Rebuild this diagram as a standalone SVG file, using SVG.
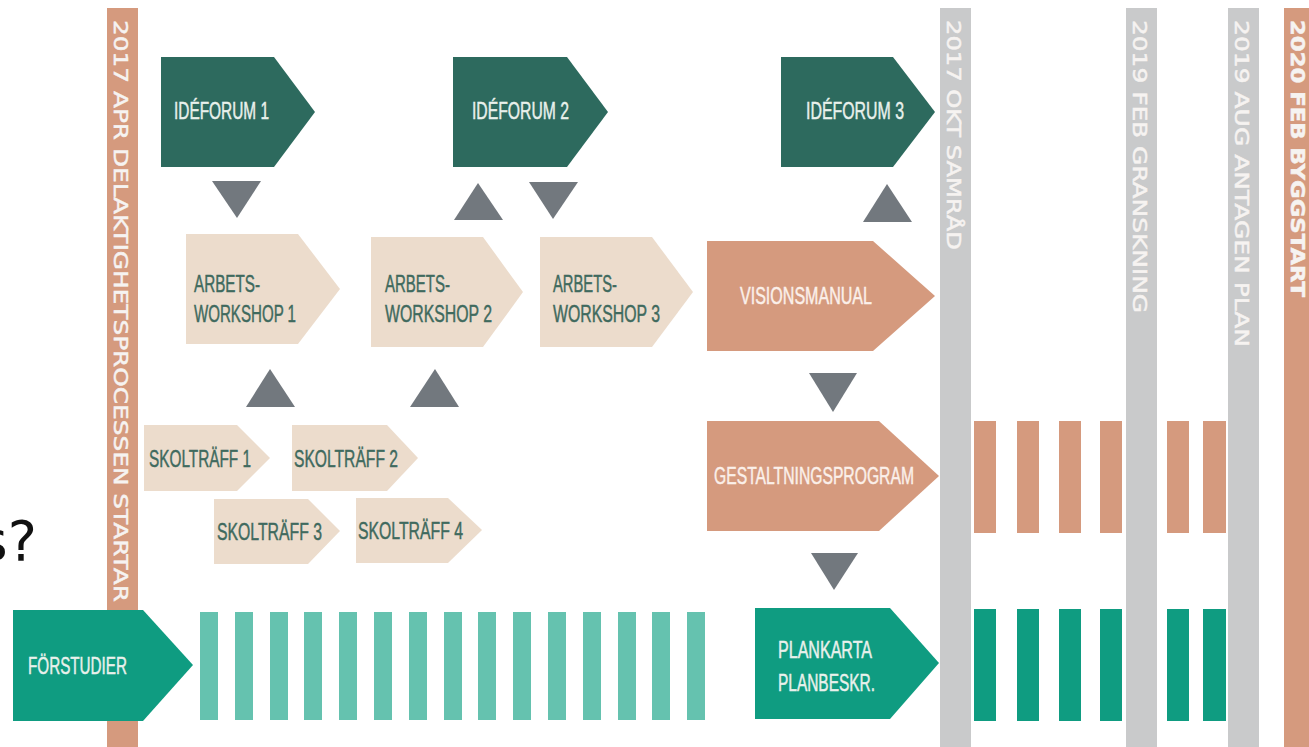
<svg xmlns="http://www.w3.org/2000/svg" width="1309" height="747" viewBox="0 0 1309 747">
<style>
.lbl{font-family:"Liberation Sans",Arial,sans-serif;font-size:23px;stroke-width:0.45px}
.vt{font-family:"DejaVu Sans","Liberation Sans",sans-serif;font-size:20px;fill:#f6f3f1;stroke:#f6f3f1;stroke-width:0.5px}
.dg{fill:#2d6a5e}
.tan{fill:#ecdccc}
.sal{fill:#d59a7e}
.teal{fill:#0f9c81}
.lteal{fill:#65c2af}
.gbar{fill:#c9cacb}
.tri{fill:#72787e}
.tl{fill:#e9f1ec;stroke:#e9f1ec}
.td{fill:#3f6a5e;stroke:#3f6a5e}
.ts{fill:#fbf0ea;stroke:#fbf0ea}
</style>
<rect width="1309" height="747" fill="#ffffff"/>
<text x="-21" y="560" font-family="DejaVu Sans, sans-serif" font-size="55" fill="#111111">s?</text>

<g id="bar-2017-apr">
<rect x="107" y="8" width="31" height="739" class="sal"/>
<text class="vt" transform="translate(114,20) rotate(90)" textLength="582" lengthAdjust="spacingAndGlyphs">2017 APR DELAKTIGHETSPROCESSEN STARTAR</text>
</g>
<g id="bar-2017-okt">
<rect x="940" y="8" width="31" height="739" class="gbar"/>
<text class="vt" transform="translate(947,20) rotate(90)" textLength="230" lengthAdjust="spacingAndGlyphs">2017 OKT SAMRÅD</text>
</g>
<g id="bar-2019-feb">
<rect x="1126" y="8" width="31" height="739" class="gbar"/>
<text class="vt" transform="translate(1133,20) rotate(90)" textLength="293" lengthAdjust="spacingAndGlyphs">2019 FEB GRANSKNING</text>
</g>
<g id="bar-2019-aug">
<rect x="1228" y="8" width="31" height="739" class="gbar"/>
<text class="vt" transform="translate(1235,20) rotate(90)" textLength="327" lengthAdjust="spacingAndGlyphs">2019 AUG ANTAGEN PLAN</text>
</g>
<g id="bar-2020-feb">
<rect x="1284" y="8" width="30" height="739" class="sal"/>
<text class="vt" font-weight="bold" transform="translate(1291,20) rotate(90)" textLength="277" lengthAdjust="spacingAndGlyphs">2020 FEB BYGGSTART</text>
</g>

<g id="ideforum-1">
<polygon points="161,57 274,57 315,112 274,167 161,167" class="dg"/>
<text x="174" y="119" class="lbl tl" textLength="95" lengthAdjust="spacingAndGlyphs">IDÉFORUM 1</text>
</g>
<g id="ideforum-2">
<polygon points="453,57 567,57 608,112 567,167 453,167" class="dg"/>
<text x="472" y="119" class="lbl tl" textLength="97" lengthAdjust="spacingAndGlyphs">IDÉFORUM 2</text>
</g>
<g id="ideforum-3">
<polygon points="781,57 893,57 935,112 893,167 781,167" class="dg"/>
<text x="806" y="119" class="lbl tl" textLength="98" lengthAdjust="spacingAndGlyphs">IDÉFORUM 3</text>
</g>

<g id="workshop-1">
<polygon points="186,234 298,234 340,289 298,344 186,344" class="tan"/>
<text x="194" y="292" class="lbl td" font-size="26" textLength="66" lengthAdjust="spacingAndGlyphs">ARBETS-</text>
<text x="194" y="322" class="lbl td" font-size="26" textLength="102" lengthAdjust="spacingAndGlyphs">WORKSHOP 1</text>
</g>
<g id="workshop-2">
<polygon points="371,237 483,237 523,292 483,347 371,347" class="tan"/>
<text x="385" y="292" class="lbl td" font-size="26" textLength="65" lengthAdjust="spacingAndGlyphs">ARBETS-</text>
<text x="385" y="322" class="lbl td" font-size="26" textLength="107" lengthAdjust="spacingAndGlyphs">WORKSHOP 2</text>
</g>
<g id="workshop-3">
<polygon points="540,237 652,237 693,292 652,347 540,347" class="tan"/>
<text x="553" y="292" class="lbl td" font-size="26" textLength="64" lengthAdjust="spacingAndGlyphs">ARBETS-</text>
<text x="553" y="322" class="lbl td" font-size="26" textLength="107" lengthAdjust="spacingAndGlyphs">WORKSHOP 3</text>
</g>
<g id="visionsmanual">
<polygon points="707,241 873,241 935,296 873,351 707,351" class="sal"/>
<text x="740" y="304" class="lbl ts" textLength="132" lengthAdjust="spacingAndGlyphs">VISIONSMANUAL</text>
</g>

<g id="skoltraff-1">
<polygon points="144,425 237,425 270,458 237,491 144,491" class="tan"/>
<text x="149" y="467" class="lbl td" textLength="102" lengthAdjust="spacingAndGlyphs">SKOLTRÄFF 1</text>
</g>
<g id="skoltraff-2">
<polygon points="292,425 387,425 418,458 387,491 292,491" class="tan"/>
<text x="294" y="467" class="lbl td" textLength="104" lengthAdjust="spacingAndGlyphs">SKOLTRÄFF 2</text>
</g>
<g id="skoltraff-3">
<polygon points="214,499 308,499 340,531 308,564 214,564" class="tan"/>
<text x="217" y="540" class="lbl td" textLength="105" lengthAdjust="spacingAndGlyphs">SKOLTRÄFF 3</text>
</g>
<g id="skoltraff-4">
<polygon points="356,498 448,498 482,530 448,563 356,563" class="tan"/>
<text x="358" y="539" class="lbl td" textLength="105" lengthAdjust="spacingAndGlyphs">SKOLTRÄFF 4</text>
</g>

<g id="gestaltningsprogram">
<polygon points="707,421 879,421 939,476 879,531 707,531" class="sal"/>
<text x="714" y="484" class="lbl ts" font-size="24" textLength="200" lengthAdjust="spacingAndGlyphs">GESTALTNINGSPROGRAM</text>
</g>
<g id="gestaltning-stripes">
<rect x="974" y="421" width="22" height="112" class="sal"/>
<rect x="1017" y="421" width="22" height="112" class="sal"/>
<rect x="1059" y="421" width="22" height="112" class="sal"/>
<rect x="1100" y="421" width="22" height="112" class="sal"/>
<rect x="1167" y="421" width="22" height="112" class="sal"/>
<rect x="1203" y="421" width="23" height="112" class="sal"/>
</g>

<g id="forstudier">
<polygon points="13,610 143,610 193,665 143,721 13,721" class="teal"/>
<text x="28" y="674" class="lbl tl" textLength="99" lengthAdjust="spacingAndGlyphs">FÖRSTUDIER</text>
</g>
<g id="forstudier-stripes">
<rect x="200" y="612" width="18" height="108" class="lteal"/>
<rect x="235" y="612" width="18" height="108" class="lteal"/>
<rect x="270" y="612" width="18" height="108" class="lteal"/>
<rect x="304" y="612" width="18" height="108" class="lteal"/>
<rect x="339" y="612" width="18" height="108" class="lteal"/>
<rect x="374" y="612" width="18" height="108" class="lteal"/>
<rect x="409" y="612" width="18" height="108" class="lteal"/>
<rect x="444" y="612" width="18" height="108" class="lteal"/>
<rect x="478" y="612" width="18" height="108" class="lteal"/>
<rect x="513" y="612" width="18" height="108" class="lteal"/>
<rect x="548" y="612" width="18" height="108" class="lteal"/>
<rect x="583" y="612" width="18" height="108" class="lteal"/>
<rect x="618" y="612" width="18" height="108" class="lteal"/>
<rect x="652" y="612" width="18" height="108" class="lteal"/>
<rect x="687" y="612" width="18" height="108" class="lteal"/>
</g>
<g id="plankarta">
<polygon points="755,608 890,608 939,663 890,719 755,719" class="teal"/>
<text x="778" y="658" class="lbl tl" textLength="94" lengthAdjust="spacingAndGlyphs">PLANKARTA</text>
<text x="778" y="691" class="lbl tl" textLength="97" lengthAdjust="spacingAndGlyphs">PLANBESKR.</text>
</g>
<g id="plankarta-stripes">
<rect x="974" y="609" width="22" height="112" class="teal"/>
<rect x="1017" y="609" width="22" height="112" class="teal"/>
<rect x="1059" y="609" width="22" height="112" class="teal"/>
<rect x="1100" y="609" width="22" height="112" class="teal"/>
<rect x="1167" y="609" width="22" height="112" class="teal"/>
<rect x="1203" y="609" width="23" height="112" class="teal"/>
</g>

<g id="connectors">
<polygon points="212,181 261,181 237,218" class="tri"/>
<polygon points="454,220 503,220 478,183" class="tri"/>
<polygon points="529,182 578,182 553,219" class="tri"/>
<polygon points="863,222 912,222 887,184" class="tri"/>
<polygon points="246,407 295,407 270,369" class="tri"/>
<polygon points="410,407 459,407 435,369" class="tri"/>
<polygon points="809,373 857,373 833,412" class="tri"/>
<polygon points="811,553 858,553 834,590" class="tri"/>
</g>
</svg>
